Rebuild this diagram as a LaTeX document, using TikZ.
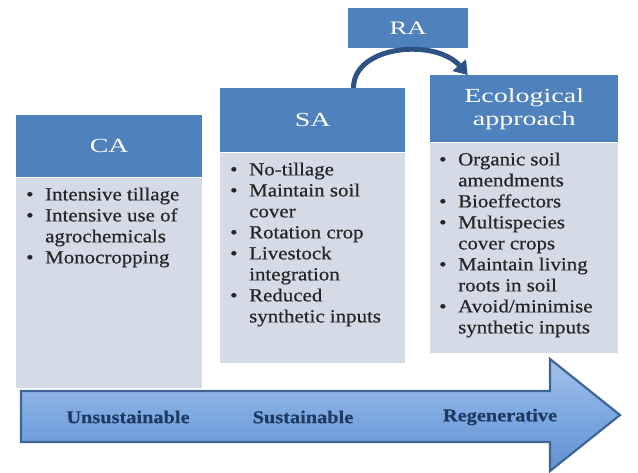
\documentclass[tikz,border=0pt]{standalone}
\usepackage{fontspec}
\setmainfont{Liberation Serif}[FakeStretch=1.13,FakeBold=0.6]
\newfontfamily\headfont{Liberation Serif}[FakeStretch=1.4]
\usetikzlibrary{arrows.meta,calc,positioning}
\definecolor{kopfblau}{HTML}{4F81BD}
\definecolor{feldgrau}{HTML}{D4DBE6}
\definecolor{bogenblau}{HTML}{2F5286}
\definecolor{pfeilrand}{HTML}{3F6596}
\definecolor{pfeilhell}{HTML}{A3C2EA}
\definecolor{pfeilmitte}{HTML}{7DA8E1}
\definecolor{pfeildunkel}{HTML}{6391D0}
\definecolor{schrift}{HTML}{1F3A62}
\newcommand{\bl}{\makebox[19pt][l]{\textbullet}}
\newcommand{\ein}{\hspace*{19pt}}

\begin{document}
\begin{tikzpicture}[x=1pt,y=-1pt,
  kopf/.style={fill=kopfblau,text=white,font=\headfont\fontsize{20}{23}\selectfont,align=center,inner sep=0pt,anchor=north west},
  feld/.style={fill=feldgrau,inner sep=0pt,anchor=north},
  liste/.style={inner sep=0pt,anchor=base west,text=black!85,font=\fontsize{18.5}{21}\selectfont},
  stufe/.style={text=schrift,font=\bfseries\fontsize{18}{21}\selectfont},
  >={Triangle[length=13pt,width=17pt]}]
  \useasboundingbox (0,0) rectangle (638,472);
  % Pfeil unten
  \draw[pfeilrand,line width=2.2pt,top color=pfeilhell,bottom color=pfeildunkel,middle color=pfeilmitte]
    (21,391) -- (550,391) -- (550,359) -- (620,415) -- (550,471) -- (550,442) -- (21,442) -- cycle;
  \node[stufe] (unsust) at (128,417) {Unsustainable};
  \node[stufe] (sust) at (303,417) {Sustainable};
  \node[stufe] (regen) at (500,417) {Regenerative};
  % Kaesten
  \node[kopf,minimum width=186,minimum height=62] (ca) at (16,115) {CA};
  \node[feld,minimum width=186,minimum height=210] (cafeld) at (ca.south) {};
  \node[liste] (caliste) at ($(cafeld.north west)+(10,23)$) {\begin{tabular}[t]{@{}l@{}}
    \bl Intensive tillage\\
    \bl Intensive use of\\
    \ein agrochemicals\\
    \bl Monocropping
  \end{tabular}};
  \node[kopf,minimum width=185,minimum height=64] (sa) at (220,88) {SA};
  \node[feld,minimum width=185,minimum height=210] (safeld) at (sa.south) {};
  \node[liste] (saliste) at ($(safeld.north west)+(10,23)$) {\begin{tabular}[t]{@{}l@{}}
    \bl No-tillage\\
    \bl Maintain soil\\
    \ein cover\\
    \bl Rotation crop\\
    \bl Livestock\\
    \ein integration\\
    \bl Reduced\\
    \ein synthetic inputs
  \end{tabular}};
  \node[kopf,minimum width=188,minimum height=67] (eco) at (430,75) {Ecological\\approach};
  \node[feld,minimum width=188,minimum height=210] (ecofeld) at (eco.south) {};
  \node[liste] (ecoliste) at ($(ecofeld.north west)+(9,23)$) {\begin{tabular}[t]{@{}l@{}}
    \bl Organic soil\\
    \ein amendments\\
    \bl Bioeffectors\\
    \bl Multispecies\\
    \ein cover crops\\
    \bl Maintain living\\
    \ein roots in soil\\
    \bl Avoid/minimise\\
    \ein synthetic inputs
  \end{tabular}};
  % RA mit Bogen
  \node[kopf,minimum width=120,minimum height=40,font=\headfont\fontsize{19}{22}\selectfont] (ra) at (348,8) {RA};
  \draw[->,line width=5pt,bogenblau] ($(sa.north west)!0.72!(sa.north east)$)
    .. controls +(0,-43) and +(-32,-37) .. ($(eco.north west)!0.2!(eco.north east)$);
\end{tikzpicture}
\end{document}
